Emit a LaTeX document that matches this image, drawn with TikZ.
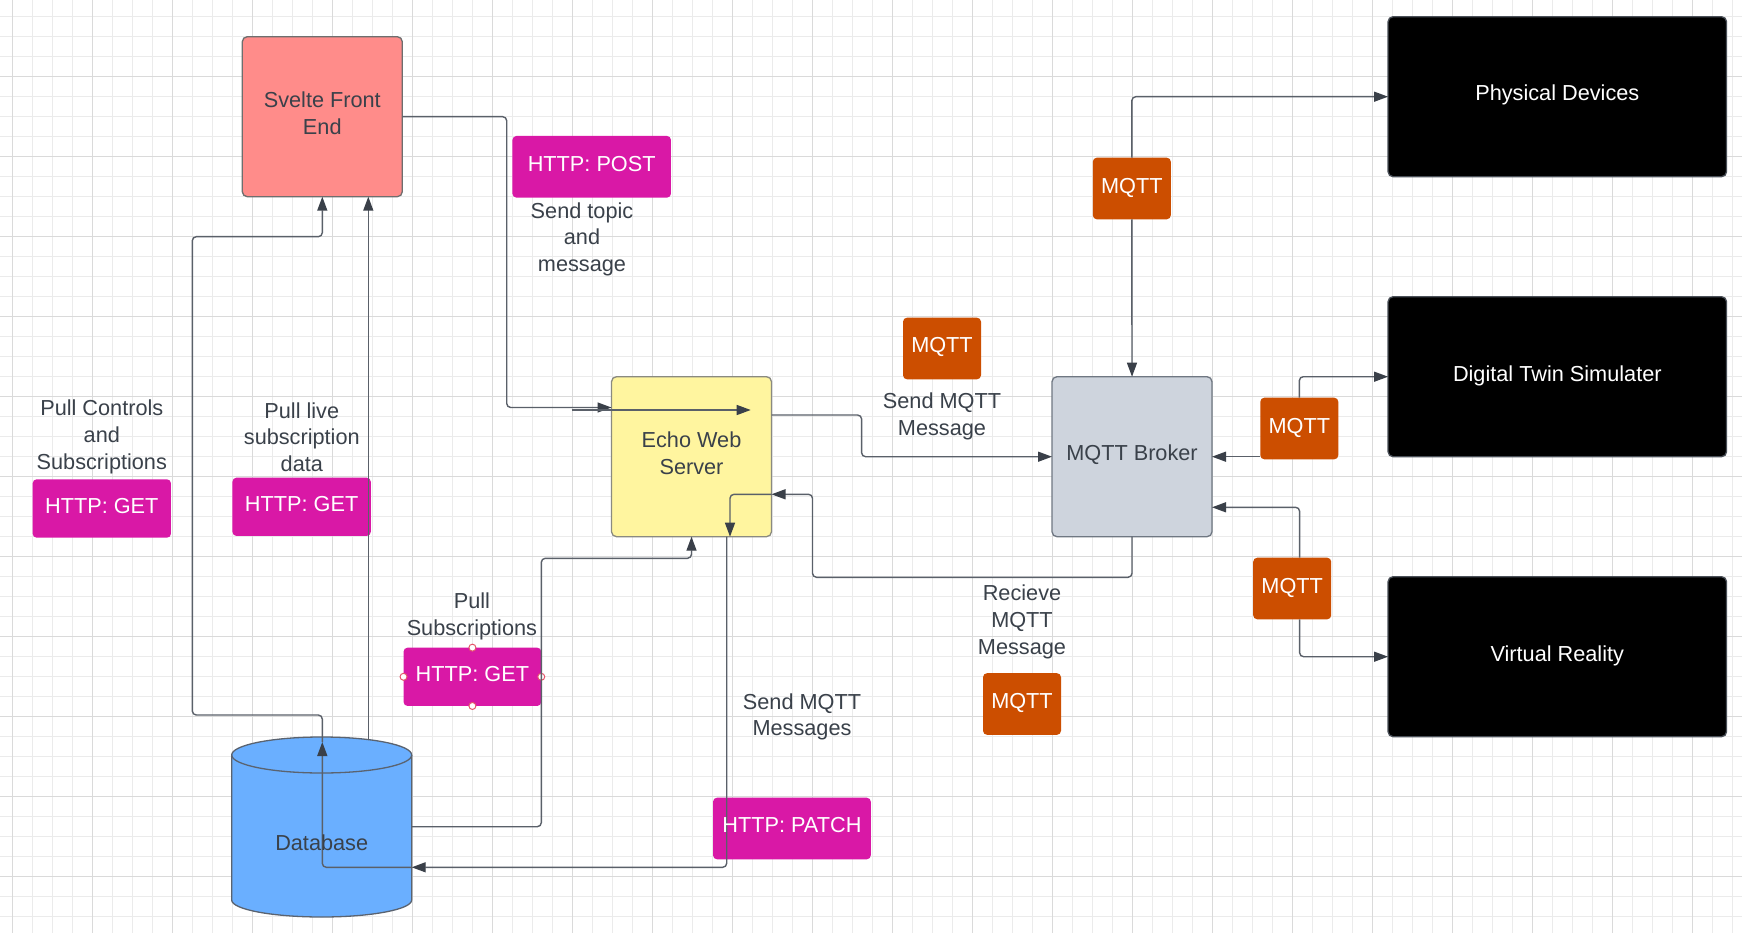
\documentclass[tikz,border=0pt]{standalone}
\usepackage{fontspec}
\setmainfont{Liberation Sans}
\usetikzlibrary{arrows.meta}
\definecolor{gridminor}{HTML}{EBEBEB}
\definecolor{gridmajor}{HTML}{DADADA}
\definecolor{txt}{HTML}{3A414A}
\definecolor{linec}{HTML}{5A6069}
\definecolor{tipc}{HTML}{3A4049}
\definecolor{sveltec}{HTML}{FF8C8A}
\definecolor{sveltebd}{HTML}{6E6E6E}
\definecolor{echoc}{HTML}{FFF59F}
\definecolor{echobd}{HTML}{8A8A80}
\definecolor{brokerc}{HTML}{CED4DD}
\definecolor{brokerbd}{HTML}{6F7782}
\definecolor{devbd}{HTML}{4A5058}
\definecolor{dbc}{HTML}{6AAFFF}
\definecolor{dbbd}{HTML}{5A6370}
\definecolor{magc}{HTML}{D918A6}
\definecolor{orgc}{HTML}{CC4E00}
\definecolor{handlec}{HTML}{E5566B}
\begin{document}
\begin{tikzpicture}[x=1pt,y=-1pt,
  box/.style={draw, line width=1.3pt, rounded corners=5pt, inner sep=0pt, outer sep=0pt, minimum width=160pt, minimum height=160pt},
  dev/.style={box, fill=black, draw=devbd, minimum width=338.5pt},
  tagm/.style={fill=magc, rounded corners=4pt, inner sep=0pt, outer sep=0pt},
  tago/.style={fill=orgc, rounded corners=4pt, inner sep=0pt, outer sep=0pt, minimum width=78pt, minimum height=61.6pt},
  lbl/.style={font=\fontsize{21.7pt}{26.7pt}\selectfont, text=txt, align=center, anchor=north, inner sep=0pt, outer sep=0pt},
  wlbl/.style={lbl, text=white},
  conn/.style={draw=linec, line width=1.4pt, rounded corners=4pt},
  arr/.style={conn, -{Triangle[length=14pt,width=10pt,color=tipc]}},
  handle/.style={circle, draw=handlec, fill=white, line width=1pt, minimum size=7pt, inner sep=0pt}
]
\useasboundingbox (0,0) rectangle (1742,933);
\fill[white] (0,0) rectangle (1742,933);
% grid
\foreach \i in {0,...,86} \draw[gridminor, line width=1pt] ({12.3+20*\i},0) -- ({12.3+20*\i},933);
\foreach \j in {0,...,45} \draw[gridminor, line width=1pt] (0,{16.3+20*\j}) -- (1742,{16.3+20*\j});
\foreach \i in {0,...,21} \draw[gridmajor, line width=1pt] ({12.3+80*\i},0) -- ({12.3+80*\i},933);
\foreach \j in {0,...,10} \draw[gridmajor, line width=1pt] (0,{76.3+80*\j}) -- (1742,{76.3+80*\j});

% main boxes
\node[box, fill=sveltec, draw=sveltebd] (svelte) at (322.3,116.7) {};
\node[box, fill=echoc, draw=echobd] (echo) at (691.5,456.7) {};
\node[box, fill=brokerc, draw=brokerbd] (broker) at (1132,456.7) {};
\node[dev] (phys) at (1557.3,96.7) {};
\node[dev] (twin) at (1557.3,376.7) {};
\node[dev] (vr) at (1557.3,656.7) {};

% database
\node[inner sep=0pt, outer sep=0pt, minimum width=180pt, minimum height=180pt] (db) at (321.7,826.7) {};
\filldraw[fill=dbc, draw=dbbd, line width=1.3pt] (db.west |- 0,755) -- (db.west |- 0,900)
  arc[start angle=180, end angle=360, x radius=90pt, y radius=17pt] -- (db.east |- 0,755)
  arc[start angle=0, end angle=180, x radius=90pt, y radius=18pt] -- cycle;
\draw[draw=dbbd, line width=1.3pt] (db.west |- 0,755) arc[start angle=180, end angle=360, x radius=90pt, y radius=18pt];

% tags
\node[tagm, minimum width=158.5pt, minimum height=61.7pt] (post) at (591.7,166.8) {};
\node[tagm, minimum width=138.3pt, minimum height=58.4pt] (geta) at (101.8,508.5) {};
\node[tagm, minimum width=138.3pt, minimum height=58.3pt] (getb) at (301.6,506.8) {};
\node[tagm, minimum width=137.7pt, minimum height=58.3pt] (getc) at (472.4,676.8) {};
\node[tagm, minimum width=157.8pt, minimum height=61.6pt] (patch) at (791.9,828.5) {};
\node[tago] (mq1) at (1131.8,188.5) {};
\node[tago] (mq2) at (1299.3,428.5) {};
\node[tago] (mq3) at (1292.2,588.5) {};
\node[tago] (mq4) at (942,348.5) {};
\node[tago] (mq5) at (1022,704) {};

% selection handles
\node[handle] (hn) at (getc.north) {};
\node[handle] (hs) at (getc.south) {};
\node[handle] (hw) at (getc.west) {};
\node[handle] (he) at (getc.east) {};

% connectors
\coordinate (p1) at (506.7,407.5);
\draw[arr] (svelte.east) -| (p1) -- (echo.west |- p1);
\coordinate (q1) at (571.7,410);
\coordinate (q2) at (750.7,410);
\draw[arr] (q1) -- (q2);
\coordinate (e1) at (861.6,456.7);
\draw[arr] (echo.east |- 0,415) -| (e1) -- (broker.west);
\coordinate (r1) at (812.5,577.3);
\draw[arr] (broker.south) |- (r1) |- (echo.east |- 0,494.3);
\coordinate (s1) at (730,494.3);
\draw[arr] (echo.east |- s1) -- (s1) -- (echo.south -| s1);
\coordinate (t1) at (726.7,867.3);
\draw[arr] (echo.south -| t1) -- (t1) -- (db.east |- t1);
\coordinate (u1) at (322.3,742);
\draw[arr] (db.east |- t1) -| (u1);
\coordinate (v1) at (192.3,715);
\coordinate (v2) at (322.3,236.7);
\draw[arr] (u1) |- (v1) |- (v2) -- (svelte.south);
\coordinate (w1) at (368.3,739.6);
\draw[arr] (w1) -- (svelte.south -| w1);
\coordinate (x1) at (541.3,558.3);
\draw[arr] (db.east) -| (x1) -| (echo.south);
\draw[arr] (mq1.north) |- (phys.west);
\draw[arr] (mq1.south) -- (broker.north);
\draw[arr] (mq2.north) |- (twin.west);
\draw[arr] (mq2.west |- 0,456.7) -- (broker.east |- 0,456.7);
\coordinate (y1) at (1299.6,507.3);
\draw[arr] (mq3.north -| y1) -- (y1) -- (broker.east |- y1);
\draw[arr] (mq3.south -| y1) |- (vr.west);

% texts in boxes
\node[lbl] (svelte-t) at (322.3,91.7) {Svelte Front\\End};
\node[lbl] (echo-t) at (691.5,431.7) {Echo Web\\Server};
\node[lbl] (broker-t) at (1132,445) {MQTT Broker};
\node[wlbl] (phys-t) at (1557.3,85) {Physical Devices};
\node[wlbl] (twin-t) at (1557.3,365.7) {Digital Twin Simulater};
\node[wlbl] (vr-t) at (1557.3,645.3) {Virtual Reality};
\node[lbl] (db-t) at (321.7,834.3) {Database};
\node[wlbl] (post-t) at (591.7,156.7) {HTTP: POST};
\node[wlbl] (geta-t) at (101.8,498.3) {HTTP: GET};
\node[wlbl] (getb-t) at (301.6,496.7) {HTTP: GET};
\node[wlbl] (getc-t) at (472.4,666.7) {HTTP: GET};
\node[wlbl] (patch-t) at (791.9,817.7) {HTTP: PATCH};
\node[wlbl] (mq1-t) at (1131.8,178.3) {MQTT};
\node[wlbl] (mq2-t) at (1299.3,418.3) {MQTT};
\node[wlbl] (mq3-t) at (1292.2,578.3) {MQTT};
\node[wlbl] (mq4-t) at (942,337.7) {MQTT};
\node[wlbl] (mq5-t) at (1022,693.3) {MQTT};

% free labels
\node[lbl] (l-post) at (582,202.3) {Send topic\\and\\message};
\node[lbl] (l-ctrl) at (101.8,400) {Pull Controls\\and\\Subscriptions};
\node[lbl] (l-live) at (301.8,402.3) {Pull live\\subscription\\data};
\node[lbl] (l-subs) at (471.9,592.7) {Pull\\Subscriptions};
\node[lbl] (l-patch) at (802,693.3) {Send MQTT\\Messages};
\node[lbl] (l-send) at (942,392.7) {Send MQTT\\Message};
\node[lbl] (l-recv) at (1022,585) {Recieve\\MQTT\\Message};
\end{tikzpicture}
\end{document}
